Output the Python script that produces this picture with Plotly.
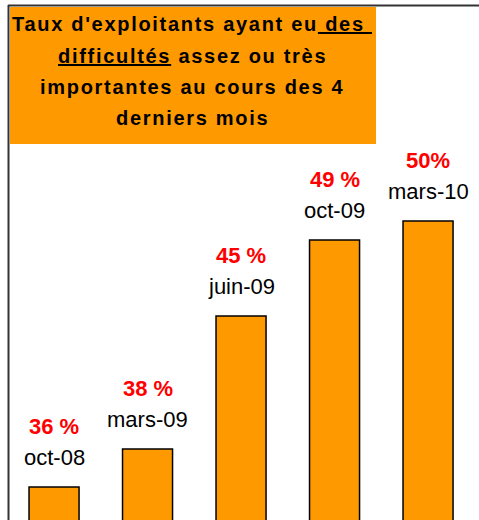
import plotly.graph_objects as go

categories = ["oct-08", "mars-09", "juin-09", "oct-09", "mars-10"]
values = [36, 38, 45, 49, 50]
pct_labels = ["36 %", "38 %", "45 %", "49 %", "50%"]
title_lines = [
    "Taux d'exploitants ayant eu<u> des </u>",
    "<u>difficultés</u> assez ou très",
    "importantes au cours des 4",
    "derniers mois",
]

W, H = 479, 520
ORANGE = "#FF9900"
FONT = "Liberation Sans, Arial, sans-serif"

x_idx = list(range(len(categories)))

fig = go.Figure()
fig.add_trace(go.Bar(
    x=x_idx, y=values, width=0.535,
    marker=dict(color=ORANGE, line=dict(color="black", width=1.5)),
    hoverinfo="skip",
))

annotations = []
for i, (v, c, p) in enumerate(zip(values, categories, pct_labels)):
    annotations.append(dict(x=i, y=v, xref="x", yref="y", text=c, showarrow=False,
                            yanchor="middle", yshift=29,
                            font=dict(family=FONT, size=22, color="black")))
    annotations.append(dict(x=i, y=v, xref="x", yref="y", text="<b>" + p + "</b>", showarrow=False,
                            yanchor="middle", yshift=60,
                            font=dict(family=FONT, size=22, color="#FF0000")))

title_centers = [24, 56, 87, 118]
for line, yc in zip(title_lines, title_centers):
    annotations.append(dict(x=192 / W, y=1 - yc / H, xref="paper", yref="paper",
                            text='<span style="letter-spacing:1.7px"><b>' + line + "</b></span>",
                            showarrow=False, xanchor="center", yanchor="middle",
                            font=dict(family=FONT, size=20, color="black")))

shapes = [
    dict(type="rect", xref="paper", yref="paper", x0=10 / W, x1=376 / W,
         y0=1 - 144 / H, y1=1 - 7 / H, fillcolor=ORANGE, line=dict(width=0), layer="below"),
    dict(type="line", xref="paper", yref="paper", x0=8 / W, x1=1, y0=1 - 5.5 / H, y1=1 - 5.5 / H,
         line=dict(color="#333333", width=2)),
    dict(type="line", xref="paper", yref="paper", x0=8.5 / W, x1=8.5 / W, y0=0, y1=1 - 5 / H,
         line=dict(color="#333333", width=2)),
]

fig.update_layout(
    width=W, height=H,
    margin=dict(l=0, r=0, t=0, b=0),
    paper_bgcolor="white", plot_bgcolor="white",
    showlegend=False,
    xaxis=dict(range=[-0.578, 4.545], visible=False, fixedrange=True),
    yaxis=dict(range=[34.26, 61.63], visible=False, fixedrange=True),
    annotations=annotations,
    shapes=shapes,
    bargap=0,
)

fig.write_html(
    "out.html",
    config={"displayModeBar": False, "staticPlot": True},
    post_script=(
        "document.documentElement.style.overflow='hidden';"
        "document.body.style.margin='0';document.body.style.overflow='hidden';"
    ),
)
